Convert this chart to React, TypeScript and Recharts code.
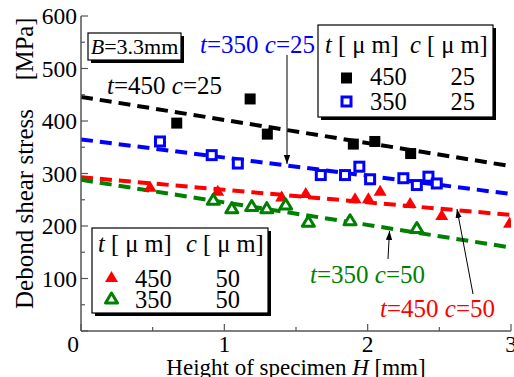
import React from 'react';
import { ComposedChart, XAxis, YAxis, Scatter, Line } from 'recharts';

// ---------- data ----------
const xTicks = [0, 0.5, 1, 1.5, 2, 2.5, 3];
const yTicks = [0, 50, 100, 150, 200, 250, 300, 350, 400, 450, 500, 550, 600];

const t450c25X = [0.668, 1.18, 1.30, 1.90, 2.05, 2.30];
const t450c25Y = [396, 442, 375, 356, 361, 338];

const t350c25X = [0.551, 0.912, 1.094, 1.673, 1.842, 1.942, 2.017, 2.249, 2.343, 2.424, 2.482];
const t350c25Y = [361, 335, 319, 297, 297, 313, 289, 291, 278, 294, 281];

const t450c50X = [0.482, 0.954, 1.40, 1.568, 1.912, 2.005, 2.087, 2.296, 2.517, 2.99];
const t450c50Y = [275, 267, 256, 263, 253, 253, 267, 244, 221, 206];

const t350c50X = [0.923, 1.052, 1.191, 1.296, 1.428, 1.586, 1.877, 2.343];
const t350c50Y = [250, 234, 238, 234, 241, 208, 211, 196];

const fitX = [0, 3];
const fit450c25 = [446, 314];
const fit350c25 = [365, 261];
const fit450c50 = [293, 221];
const fit350c50 = [288, 159];

const zip = (xs: number[], ys: number[]) => xs.map((x, i) => ({ x, y: ys[i] }));

const FONT = "'Liberation Serif', 'Times New Roman', serif";
const AX = '#555';
const BLUE = '#0000ff';
const RED = '#ff0000';
const GREEN = '#008000';

// ---------- marker shapes ----------
const FilledSquare = ({ cx, cy }: any) => (
  <rect x={cx - 5.5} y={cy - 5.5} width={11} height={11} fill="#000" />
);
const HollowSquare = ({ cx, cy }: any) => (
  <rect x={cx - 4.5} y={cy - 4.5} width={9} height={9} fill="#fff" stroke={BLUE} strokeWidth={3} />
);
const FilledTriangle = ({ cx, cy }: any) => (
  <polygon points={`${cx},${cy - 6} ${cx - 6.5},${cy + 5} ${cx + 6.5},${cy + 5}`} fill={RED} />
);
const HollowTriangle = ({ cx, cy }: any) => (
  <polygon
    points={`${cx},${cy - 5.5} ${cx - 6},${cy + 4.5} ${cx + 6},${cy + 4.5}`}
    fill="#fff"
    stroke={GREEN}
    strokeWidth={3}
    strokeLinejoin="round"
  />
);

// ---------- text styles ----------
const base = { fontFamily: FONT, fill: '#000' } as const;
const tickTxt = { ...base, fontSize: 23.5 } as const;
const titleTxt = { ...base, fontSize: 24.5 } as const;
const annTxt = { ...base, fontSize: 25 } as const;
const legTxt = { ...base, fontSize: 24.5 } as const;

// ---------- ticks ----------
const BottomTick = ({ x, y, payload }: any) => {
  const v = payload.value;
  const major = v % 1 === 0;
  return (
    <g>
      <line x1={x} x2={x} y1={y} y2={y - (major ? 7 : 4)} stroke={AX} strokeWidth={1.2} />
      {major && (
        <text x={v === 0 ? x - 8 : x} y={y + 21} textAnchor="middle" {...tickTxt}>
          {v}
        </text>
      )}
    </g>
  );
};
const TopTick = ({ x, y, payload }: any) => {
  const major = payload.value % 1 === 0;
  return <line x1={x} x2={x} y1={y} y2={y + (major ? 7 : 4)} stroke={AX} strokeWidth={1.2} />;
};
const LeftTick = ({ x, y, payload }: any) => {
  const v = payload.value;
  const major = v % 100 === 0;
  return (
    <g>
      <line x1={x} x2={x + (major ? 7 : 4)} y1={y} y2={y} stroke={AX} strokeWidth={1.2} />
      {major && v > 0 && (
        <text x={x - 4} y={y + 8} textAnchor="end" {...tickTxt}>
          {v}
        </text>
      )}
    </g>
  );
};
const RightTick = ({ x, y, payload }: any) => {
  const major = payload.value % 100 === 0;
  return <line x1={x} x2={x - (major ? 7 : 4)} y1={y} y2={y} stroke={AX} strokeWidth={1.2} />;
};

const It = ({ children }: any) => <tspan fontStyle="italic">{children}</tspan>;

const LegendBox = ({ x, y, w, h }: any) => (
  <g>
    <rect x={x + 3} y={y + 3} width={w} height={h} fill="#000" />
    <rect x={x} y={y} width={w} height={h} fill="#fff" stroke="#000" strokeWidth={1.2} />
  </g>
);

const Overlay = () => (
  <svg
    width={514}
    height={377}
    style={{ position: 'absolute', left: 0, top: 0, pointerEvents: 'none' }}
  >
    <defs>
      <marker id="arr" viewBox="0 0 10 10" refX="10" refY="5" markerWidth="9" markerHeight="9" markerUnits="userSpaceOnUse" orient="auto">
        <path d="M0,1.5 L10,5 L0,8.5 Z" fill="#000" />
      </marker>
    </defs>

    {/* axis titles */}
    <text transform="translate(33,49) rotate(-90)" textAnchor="middle" {...titleTxt}>[MPa]</text>
    <text transform="translate(33,209) rotate(-90)" textAnchor="middle" {...titleTxt} fontSize={25}>Debond shear stress</text>
    <text x={296} y={375} textAnchor="middle" {...titleTxt} fontSize={23}>
      Height of specimen  <It>H</It> [mm]
    </text>

    {/* B box */}
    <LegendBox x={88} y={33} w={93} h={27} />
    <text x={134.5} y={54} textAnchor="middle" {...base} fontSize={22}>
      <It>B</It>=3.3mm
    </text>

    {/* annotations */}
    <text x={107} y={94} {...annTxt}>
      <It>t</It>=450 <It>c</It>=25
    </text>
    <text x={200} y={53} {...annTxt} fill={BLUE}>
      <It>t</It>=350 <It>c</It>=25
    </text>
    <text x={310} y={283} {...annTxt} fill={GREEN}>
      <It>t</It>=350 <It>c</It>=50
    </text>
    <text x={380} y={317} {...annTxt} fill={RED}>
      <It>t</It>=450 <It>c</It>=50
    </text>
    <line x1={287} y1={55} x2={287} y2={164} stroke="#000" strokeWidth={1} markerEnd="url(#arr)" />
    <line x1={388} y1={259} x2={389.5} y2={231} stroke="#000" strokeWidth={1} markerEnd="url(#arr)" />
    <line x1={473} y1={294} x2={457} y2={209} stroke="#000" strokeWidth={1} markerEnd="url(#arr)" />

    {/* legend top-right */}
    <LegendBox x={318} y={25} w={175} h={92} />
    <text x={325} y={53} {...legTxt}><It>t</It> [ μ m]</text>
    <text x={410} y={53} {...legTxt}><It>c</It> [ μ m]</text>
    <FilledSquare cx={346.5} cy={78} />
    <text x={370} y={85} {...legTxt}>450</text>
    <text x={475} y={85} textAnchor="end" {...legTxt}>25</text>
    <HollowSquare cx={346.5} cy={101.5} />
    <text x={370} y={110} {...legTxt}>350</text>
    <text x={475} y={110} textAnchor="end" {...legTxt}>25</text>

    {/* legend bottom-left */}
    <LegendBox x={92} y={228} w={176} h={85} />
    <text x={98} y={252} {...legTxt}><It>t</It> [ μ m]</text>
    <text x={186} y={252} {...legTxt}><It>c</It> [ μ m]</text>
    <FilledTriangle cx={111.5} cy={277} />
    <text x={135} y={287} {...legTxt}>450</text>
    <text x={240} y={287} textAnchor="end" {...legTxt}>50</text>
    <HollowTriangle cx={111.5} cy={298.5} />
    <text x={135} y={308} {...legTxt}>350</text>
    <text x={240} y={308} textAnchor="end" {...legTxt}>50</text>
  </svg>
);

const dash = '12 7';

export default function App() {
  return (
    <div style={{ position: 'absolute', left: 0, top: 0, width: 514, height: 377, background: '#fff' }}>
      <ComposedChart
        width={514}
        height={377}
        margin={{ top: 16, right: 3, bottom: 0, left: 0 }}
        style={{ fontFamily: FONT }}
      >
        <XAxis
          xAxisId={0}
          dataKey="x"
          type="number"
          domain={[0, 3]}
          ticks={xTicks}
          allowDataOverflow
          height={46}
          tickSize={0}
          tickMargin={0}
          tickLine={false}
          tick={<BottomTick />}
          axisLine={{ stroke: AX, strokeWidth: 1.5 }}
          interval={0}
        />
        <XAxis
          xAxisId="top"
          orientation="top"
          type="number"
          domain={[0, 3]}
          ticks={xTicks}
          allowDataOverflow
          height={0}
          tickSize={0}
          tickMargin={0}
          tickLine={false}
          tick={<TopTick />}
          axisLine={{ stroke: AX, strokeWidth: 1.5 }}
          interval={0}
        />
        <YAxis
          yAxisId={0}
          dataKey="y"
          type="number"
          domain={[0, 600]}
          ticks={yTicks}
          allowDataOverflow
          width={81}
          tickSize={0}
          tickMargin={0}
          tickLine={false}
          tick={<LeftTick />}
          axisLine={{ stroke: AX, strokeWidth: 1.5 }}
          interval={0}
        />
        <YAxis
          yAxisId="right"
          orientation="right"
          type="number"
          domain={[0, 600]}
          ticks={yTicks}
          allowDataOverflow
          width={0}
          tickSize={0}
          tickMargin={0}
          tickLine={false}
          tick={<RightTick />}
          axisLine={{ stroke: AX, strokeWidth: 1.5 }}
          interval={0}
        />

        <Line data={zip(fitX, fit450c25)} dataKey="y" stroke="#000" strokeWidth={4} strokeDasharray={dash} dot={false} isAnimationActive={false} />
        <Line data={zip(fitX, fit350c25)} dataKey="y" stroke={BLUE} strokeWidth={4} strokeDasharray={dash} dot={false} isAnimationActive={false} />
        <Line data={zip(fitX, fit450c50)} dataKey="y" stroke={RED} strokeWidth={4} strokeDasharray={dash} dot={false} isAnimationActive={false} />
        <Line data={zip(fitX, fit350c50)} dataKey="y" stroke={GREEN} strokeWidth={4} strokeDasharray={dash} dot={false} isAnimationActive={false} />

        <Scatter data={zip(t450c25X, t450c25Y)} shape={FilledSquare} isAnimationActive={false} />
        <Scatter data={zip(t350c25X, t350c25Y)} shape={HollowSquare} isAnimationActive={false} />
        <Scatter data={zip(t450c50X, t450c50Y)} shape={FilledTriangle} isAnimationActive={false} />
        <Scatter data={zip(t350c50X, t350c50Y)} shape={HollowTriangle} isAnimationActive={false} />
      </ComposedChart>
      <Overlay />
    </div>
  );
}
